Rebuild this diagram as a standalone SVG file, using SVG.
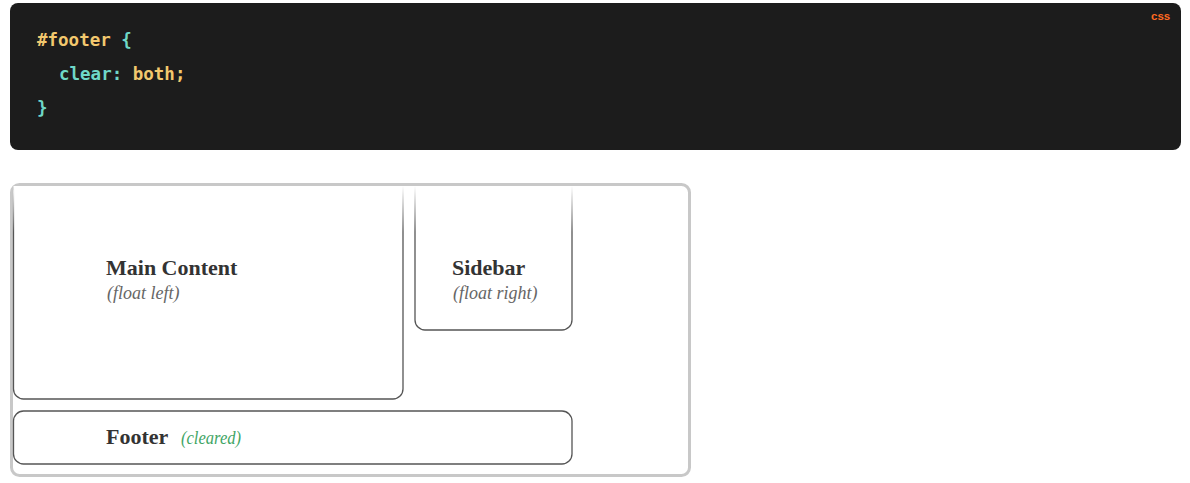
<svg xmlns="http://www.w3.org/2000/svg" width="1190" height="483" viewBox="0 0 1190 483">
<style>
.code{font-family:"DejaVu Sans Mono","Liberation Mono",monospace;font-size:17.5px;font-weight:600}
.cy{fill:#f2c86e}
.cc{fill:#6fd8c8}
.lang{font-family:"Liberation Sans",Arial,sans-serif;font-size:11.5px;font-weight:bold;fill:#ff6a21}
.t{font-family:"Liberation Serif","Times New Roman",serif;font-size:22px;font-weight:bold;fill:#333}
.s{font-family:"Liberation Serif","Times New Roman",serif;font-size:18px;font-style:italic;fill:#666}
.g{fill:#3fa565}
.box{fill:#fff;stroke:#555;stroke-width:1.3}
</style>
<defs>
<linearGradient id="fade" gradientUnits="userSpaceOnUse" x1="0" y1="186" x2="0" y2="232">
<stop offset="0" stop-color="#555" stop-opacity="0"/>
<stop offset="1" stop-color="#555" stop-opacity="1"/>
</linearGradient>
</defs>
<rect width="1190" height="483" fill="#fff"/>
<g id="code">
<rect x="10" y="3" width="1171" height="147" rx="8" fill="#1c1c1c"/>
<text class="lang" x="1151" y="20">css</text>
<text class="code" x="37" y="46"><tspan class="cy">#footer</tspan><tspan class="cc"> {</tspan></text>
<text class="code" x="59" y="80"><tspan class="cc">clear: </tspan><tspan class="cy">both;</tspan></text>
<text class="code cc" x="37" y="114">}</text>
</g>
<g id="container">
<rect x="11.5" y="184.5" width="678" height="291" rx="8" fill="#fff" stroke="#c8c8c8" stroke-width="3"/>
</g>
<g id="main">
<path d="M13.5 186 V389 a10 10 0 0 0 10 10 H393 a10 10 0 0 0 10 -10 V186" fill="#fff" stroke="url(#fade)" stroke-width="1.3"/>
<text class="t" x="106" y="275">Main Content</text>
<text class="s" x="107" y="299">(float left)</text>
</g>
<g id="sidebar">
<path d="M415 186 V320 a10 10 0 0 0 10 10 H562 a10 10 0 0 0 10 -10 V186" fill="#fff" stroke="url(#fade)" stroke-width="1.3"/>
<text class="t" x="452" y="275">Sidebar</text>
<text class="s" x="453" y="299">(float right)</text>
</g>
<g id="footer">
<rect class="box" x="13.5" y="411" width="558.5" height="53" rx="10"/>
<text class="t" x="106" y="444">Footer</text>
<text class="s g" x="181" y="444" textLength="60" lengthAdjust="spacingAndGlyphs">(cleared)</text>
</g>
<g id="connectors"/>
</svg>
